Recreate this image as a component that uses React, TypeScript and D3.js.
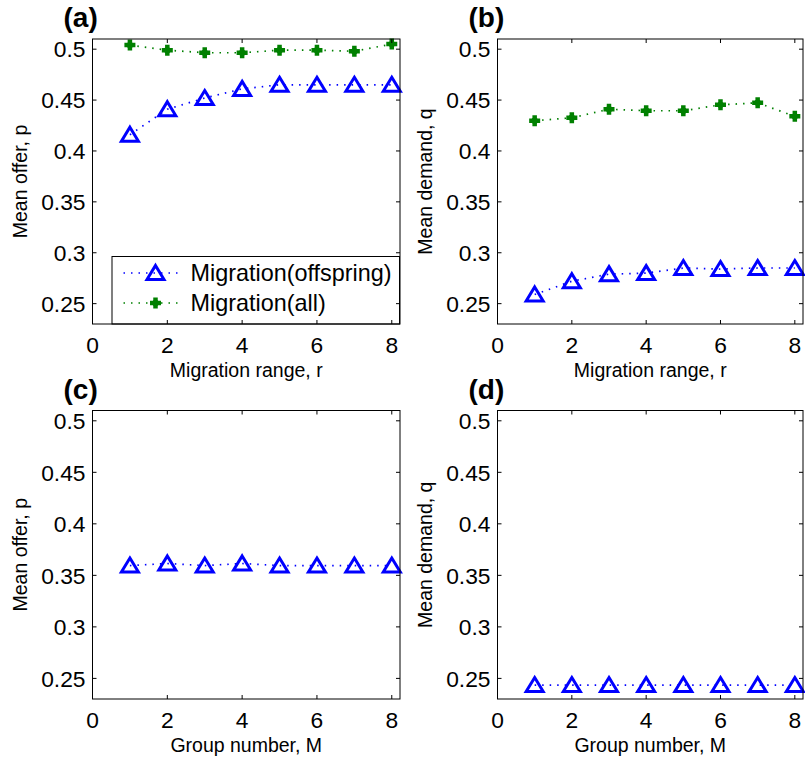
import React from "react";
import * as d3 from "d3";

/* data */
const X_VALUES = [1, 2, 3, 4, 5, 6, 7, 8];
const OFFER_OFFSPRING = [0.416, 0.441, 0.452, 0.461, 0.465, 0.465, 0.465, 0.465];
const OFFER_ALL = [0.504, 0.499, 0.4965, 0.4965, 0.499, 0.499, 0.498, 0.505];
const DEMAND_OFFSPRING = [0.259, 0.272, 0.279, 0.28, 0.285, 0.284, 0.285, 0.285];
const DEMAND_ALL = [0.4297, 0.4326, 0.441, 0.4395, 0.4395, 0.4453, 0.4473, 0.434];
const GROUP_OFFER = [0.3595, 0.3615, 0.3595, 0.3615, 0.3595, 0.3595, 0.3595, 0.3595];
const GROUP_DEMAND = [0.2435, 0.2435, 0.2435, 0.2435, 0.2435, 0.2435, 0.2435, 0.2435];

const X_TICKS = [0, 2, 4, 6, 8];
const Y_TICKS = [0.25, 0.3, 0.35, 0.4, 0.45, 0.5];
const Y_TICK_LABELS = ["0.25", "0.3", "0.35", "0.4", "0.45", "0.5"];
const LEGEND_LABELS = ["Migration(offspring)", "Migration(all)"];

const FONT = "'Liberation Sans', Arial, sans-serif";
const BLUE = "#0000ff";
const GREEN = "#008000";
const DASH = "1.5 6";

type Kind = "tri" | "plus";
type Series = { values: number[]; kind: Kind };
type Box = { left: number; top: number; right: number; bottom: number };

const triPath = "M0,-7.5L8.5,6.5L-8.5,6.5Z";
const plusPath = "M-5.5,0H5.5M0,-5.5V5.5";

function Marker({ kind, x, y }: { kind: Kind; x: number; y: number }) {
  if (kind === "tri")
    return (
      <path
        d={triPath}
        transform={`translate(${x},${y})`}
        fill="none"
        stroke={BLUE}
        strokeWidth={3}
      />
    );
  return (
    <g transform={`translate(${x},${y})`}>
      <path d={plusPath} fill="none" stroke={GREEN} strokeWidth={4.5} />
      <circle r={3.2} fill={GREEN} />
    </g>
  );
}

function Panel({
  box,
  tag,
  xLabel,
  yLabel,
  series,
  legend,
}: {
  box: Box;
  tag: string;
  xLabel: string;
  yLabel: string;
  series: Series[];
  legend?: boolean;
}) {
  const { left, top, right, bottom } = box;
  const x = d3.scaleLinear().domain([0, 8.22]).range([left, right]);
  const y = d3.scaleLinear().domain([0.23, 0.51]).range([bottom, top]);

  const line = d3
    .line<number>()
    .x((_, i) => x(X_VALUES[i]))
    .y((d) => y(d));

  const tl = 4; // tick length, inward

  return (
    <g>
      {/* ---- series ---- */}
      {series.map((s, si) => (
        <g key={si}>
          <path
            d={line(s.values) ?? ""}
            fill="none"
            stroke={s.kind === "tri" ? BLUE : GREEN}
            strokeWidth={1.7}
            strokeDasharray={DASH}
          />
          {s.values.map((v, i) => (
            <Marker key={i} kind={s.kind} x={x(X_VALUES[i])} y={y(v)} />
          ))}
        </g>
      ))}

      {/* ---- legend ---- */}
      {legend && (
        <g>
          <rect
            x={left + 19.5}
            y={bottom - 67.5}
            width={right - left - 20}
            height={67.5}
            fill="#fff"
            stroke="#000"
            strokeWidth={1}
          />
          {series.map((s, i) => {
            const ly = bottom - 51 + i * 30;
            const lx0 = left + 31;
            return (
              <g key={i}>
                <line
                  x1={lx0}
                  x2={lx0 + 58}
                  y1={ly}
                  y2={ly}
                  stroke={s.kind === "tri" ? BLUE : GREEN}
                  strokeWidth={1.7}
                  strokeDasharray={DASH}
                />
                <Marker kind={s.kind} x={lx0 + 32} y={ly} />
                <text
                  x={left + 98}
                  y={ly}
                  dy="0.35em"
                  fontFamily={FONT}
                  fontSize={23.4}
                  fill="#000"
                >
                  {LEGEND_LABELS[i]}
                </text>
              </g>
            );
          })}
        </g>
      )}

      {/* ---- box ---- */}
      <rect
        x={left}
        y={top}
        width={right - left}
        height={bottom - top}
        fill="none"
        stroke="#000"
        strokeWidth={1}
      />

      {/* ---- ticks ---- */}
      {X_TICKS.map((t) => (
        <g key={`x${t}`}>
          <line x1={x(t)} x2={x(t)} y1={bottom} y2={bottom - tl} stroke="#000" />
          <line x1={x(t)} x2={x(t)} y1={top} y2={top + tl} stroke="#000" />
          <text
            x={x(t)}
            y={bottom + 29}
            textAnchor="middle"
            fontFamily={FONT}
            fontSize={22.8}
            fill="#000"
          >
            {t}
          </text>
        </g>
      ))}
      {Y_TICKS.map((t, i) => (
        <g key={`y${t}`}>
          <line x1={left} x2={left + tl} y1={y(t)} y2={y(t)} stroke="#000" />
          <line x1={right} x2={right - tl} y1={y(t)} y2={y(t)} stroke="#000" />
          <text
            x={left - 7}
            y={y(t)}
            dy="0.36em"
            textAnchor="end"
            fontFamily={FONT}
            fontSize={22.8}
            fill="#000"
          >
            {Y_TICK_LABELS[i]}
          </text>
        </g>
      ))}

      {/* ---- labels ---- */}
      <text
        x={(left + right) / 2}
        y={bottom + 53}
        textAnchor="middle"
        fontFamily={FONT}
        fontSize={19.5}
        fill="#000"
      >
        {xLabel}
      </text>
      <text
        transform={`translate(${left - 66},${(top + bottom) / 2}) rotate(-90)`}
        textAnchor="middle"
        fontFamily={FONT}
        fontSize={19.5}
        fill="#000"
      >
        {yLabel}
      </text>
      <text
        x={left - 29}
        y={top - 12}
        fontFamily={FONT}
        fontSize={28}
        fontWeight="bold"
        fill="#000"
      >
        {tag}
      </text>
    </g>
  );
}

export default function App() {
  const W = 805;
  const H = 760;
  const colL = { left: 92.5, right: 400 };
  const colR = { left: 497.5, right: 803 };
  const rowT = { top: 39, bottom: 324 };
  const rowB = { top: 410.5, bottom: 699 };

  return (
    <div style={{ position: "absolute", left: 0, top: 0 }}>
      <svg width={W} height={H} style={{ display: "block", background: "#fff" }}>
        <Panel
          box={{ ...colL, ...rowT }}
          tag="(a)"
          xLabel="Migration range, r"
          yLabel="Mean offer, p"
          series={[
            { values: OFFER_OFFSPRING, kind: "tri" },
            { values: OFFER_ALL, kind: "plus" },
          ]}
          legend
        />
        <Panel
          box={{ ...colR, ...rowT }}
          tag="(b)"
          xLabel="Migration range, r"
          yLabel="Mean demand, q"
          series={[
            { values: DEMAND_OFFSPRING, kind: "tri" },
            { values: DEMAND_ALL, kind: "plus" },
          ]}
        />
        <Panel
          box={{ ...colL, ...rowB }}
          tag="(c)"
          xLabel="Group number, M"
          yLabel="Mean offer, p"
          series={[{ values: GROUP_OFFER, kind: "tri" }]}
        />
        <Panel
          box={{ ...colR, ...rowB }}
          tag="(d)"
          xLabel="Group number, M"
          yLabel="Mean demand, q"
          series={[{ values: GROUP_DEMAND, kind: "tri" }]}
        />
      </svg>
    </div>
  );
}
